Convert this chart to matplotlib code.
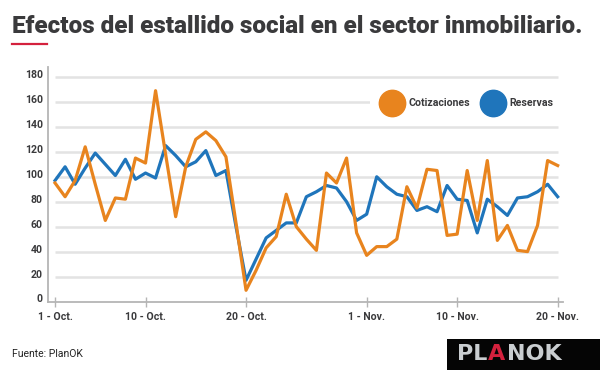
import matplotlib
matplotlib.use('Agg')
import matplotlib.pyplot as plt
import matplotlib.transforms as mtransforms
from matplotlib.lines import Line2D
from matplotlib.patches import Rectangle

# daily values, 1 Oct -> 20 Nov
cotizaciones = [95, 84, 97, 124, 94, 65, 83, 82, 115, 111, 169, 118, 68, 108, 130, 136, 129,
                116, 63, 9, 25, 43, 52, 86, 60, 50, 41, 103, 95, 115, 55, 37, 44, 44, 50,
                92, 75, 106, 105, 53, 54, 105, 65, 113, 49, 61, 41, 40, 61, 113, 109]
reservas = [97, 108, 94, 107, 119, 110, 101, 114, 98, 103, 99, 125, 117, 108, 112, 121, 101,
            105, 60, 17, 34, 51, 57, 63, 63, 84, 88, 93, 91, 80, 65, 70, 100, 92, 86,
            84, 73, 76, 72, 93, 82, 81, 55, 82, 76, 69, 83, 84, 88, 94, 84]
dias = list(range(len(cotizaciones)))

tick_dias = [0, 9, 19, 31, 40, 50]
tick_labels = ['1 - Oct.', '10 - Oct.', '20 - Oct.', '1 - Nov.', '10 - Nov.', '20 - Nov.']
y_ticks = [0, 20, 40, 60, 80, 100, 120, 140, 160, 180]

naranjo = '#e8841e'
azul = '#1f75bb'
texto = '#3a3a3c'
cond = ['Roboto', 'DejaVu Sans']

fig = plt.figure(figsize=(6, 3.73), dpi=100)

# title + red underline
title = fig.text(12 / 600, 1 - 33 / 373, 'Efectos del estallido social en el sector inmobiliario.',
                 fontsize=16, fontweight=900, color=texto, family=cond,
                 va='baseline', ha='left')
fig.canvas.draw()
w = title.get_window_extent().width
title.set_fontsize(16 * 573 / w)
fig.add_artist(Line2D([12 / 600, 47 / 600], [1 - 43.5 / 373] * 2, color='#d4213d', lw=1.6,
                      transform=fig.transFigure))

ax = fig.add_axes([47.7 / 600, 1 - 301.5 / 373, 515 / 600, 234.5 / 373])
ax.set_xlim(-0.73, 50.5)
ax.set_ylim(0, 188)

ax.hlines(y_ticks[1:], dias[0], dias[-1], color='#e3e3e3', lw=1.8, zorder=1)
ax.plot(dias, reservas, color=azul, lw=2.3, zorder=3)
ax.plot(dias, cotizaciones, color=naranjo, lw=2.3, zorder=4)

for s in ['top', 'right']:
    ax.spines[s].set_visible(False)
for s in ['left', 'bottom']:
    ax.spines[s].set_color('#b5b5b5')
    ax.spines[s].set_linewidth(1.3)

ax.set_yticks(y_ticks)
ax.set_yticklabels([str(v) for v in y_ticks])
ax.tick_params(axis='y', length=0, pad=3.6)
ax.set_xticks(tick_dias)
ax.set_xticklabels(tick_labels)
ax.tick_params(axis='x', direction='inout', length=7, width=1, color='#b5b5b5', pad=4)
for lab in ax.get_yticklabels() + ax.get_xticklabels():
    lab.set_family(cond)
    lab.set_fontweight('bold')
    lab.set_fontsize(7.6)
    lab.set_color(texto)
shift = mtransforms.ScaledTranslation(0, 0.03, fig.dpi_scale_trans)
for lab in ax.get_yticklabels():
    lab.set_transform(lab.get_transform() + shift)

handles = [Line2D([], [], marker='o', ls='', markersize=19, color=naranjo, label='Cotizaciones'),
           Line2D([], [], marker='o', ls='', markersize=19, color=azul, label='Reservas')]
leg = ax.legend(handles=handles, ncol=2, loc='center left',
                bbox_to_anchor=(365 / 600, 1 - 103.3 / 373), bbox_transform=fig.transFigure,
                frameon=True, facecolor='white', edgecolor='none', framealpha=1,
                handlelength=2.2, handletextpad=0.45, columnspacing=1.0, borderpad=1.0,
                prop={'family': cond, 'weight': 'bold', 'size': 7.6})
for t in leg.get_texts():
    t.set_color(texto)
leg.set_zorder(5)

fig.text(12 / 600, 1 - 354 / 373, 'Fuente: PlanOK', fontsize=7.5, color='#222222',
         family=cond, va='center', ha='left')

# logo
fig.add_artist(Rectangle((447 / 600, 3 / 373), 153 / 600, 31 / 373, facecolor='#050505',
                         edgecolor='none', transform=fig.transFigure))
x = 457
for part, col in [('PL', '#c9cdd0'), ('A', '#d4213d'), ('NOK', '#c9cdd0')]:
    t = fig.text(x / 600, 1 - 354 / 373, part, fontsize=16, fontweight='bold', color=col,
                 family='DejaVu Sans', va='center', ha='left')
    fig.canvas.draw()
    x += t.get_window_extent().width + 1

fig.savefig('out.png', dpi=100)
